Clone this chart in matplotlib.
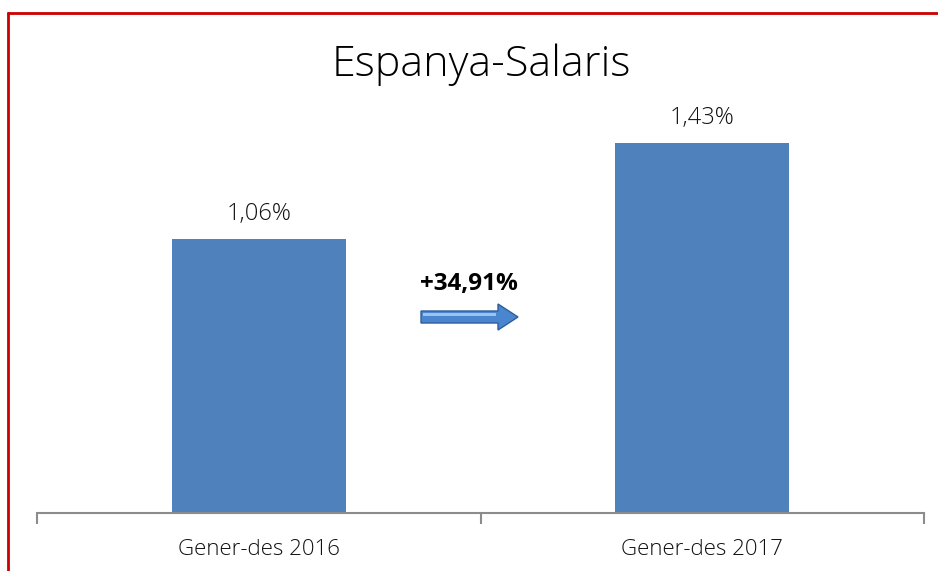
import matplotlib
matplotlib.use("Agg")
import matplotlib.pyplot as plt
from matplotlib.lines import Line2D
from matplotlib.patches import FancyArrow
from matplotlib import font_manager as fm

categories = ["Gener-des 2016", "Gener-des 2017"]
values = [1.06, 1.43]
value_labels = ["1,06%", "1,43%"]
change_label = "+34,91%"
title = "Espanya-Salaris"

W, H = 938, 571
fig = plt.figure(figsize=(W / 100, H / 100), dpi=100)
fig.patch.set_facecolor("white")

# pick a light font if available
light_family, light_weight = "Open Sans", "normal"
names = {(f.name, f.weight) for f in fm.fontManager.ttflist}
for fam in ["Open Sans", "Lato", "Roboto", "Inter", "Noto Sans"]:
    if any(n == fam and (w in (300, "light") or w == 300) for n, w in names):
        light_family, light_weight = fam, "light"
        break

def fx(px):
    return px / W

def fy(py):
    return 1 - py / H

ax = fig.add_axes([fx(37), fy(513), fx(924) - fx(37), fy(99) - fy(513)])
x = list(range(len(categories)))
ax.bar(x, values, width=0.392, color="#4F81BD", zorder=2)
ax.set_xlim(-0.5, len(categories) - 0.5)
ax.set_ylim(0, 1.6)

for s in ["top", "right", "left"]:
    ax.spines[s].set_visible(False)
ax.spines["bottom"].set_color("#8c8c8c")
ax.spines["bottom"].set_linewidth(1.5)
ax.set_yticks([])
ax.set_xticks([i - 0.5 for i in range(len(categories) + 1)])
ax.set_xticklabels([])
ax.tick_params(axis="x", which="major", length=8, width=1.5, color="#8c8c8c", direction="out")
ax.set_xticks(x, minor=True)
ax.set_xticklabels(categories, minor=True, fontsize=16, family=light_family,
                   fontweight=light_weight, color="#111111")
ax.tick_params(axis="x", which="minor", length=0, pad=19)

for xi, v, lab in zip(x, values, value_labels):
    ax.annotate(lab, (xi, v), xytext=(0, 9), textcoords="offset points",
                ha="center", va="bottom", fontsize=17, family=light_family,
                fontweight=light_weight, color="#111111")

fig.text(fx(481), fy(65), title, ha="center", va="center", fontsize=31,
         family=light_family, fontweight=light_weight, color="#000000")

fig.text(fx(469), fy(284), change_label, ha="center", va="center", fontsize=17.5,
         family="Open Sans", fontweight="bold", color="#000000")

arrow = FancyArrow(fx(421), fy(317), fx(518) - fx(421), 0, width=12 / H,
                   head_width=26 / H, head_length=fx(20), length_includes_head=True,
                   transform=fig.transFigure, facecolor="#4A86D0", edgecolor="#2E5E9A",
                   linewidth=1)
fig.patches.append(arrow)
arrow2 = FancyArrow(fx(423), fy(314), fx(496) - fx(423), 0, width=3 / H,
                    head_width=0, head_length=0, length_includes_head=True,
                    transform=fig.transFigure, facecolor="#9CC3F0", edgecolor="none")
fig.patches.append(arrow2)

fig.add_artist(Line2D([fx(7.5), fx(7.5)], [fy(12), 0], color="#CC0000", linewidth=2,
                      transform=fig.transFigure, solid_capstyle="butt"))
fig.add_artist(Line2D([fx(7), 1], [fy(12.5), fy(12.5)], color="#CC0000", linewidth=2,
                      transform=fig.transFigure, solid_capstyle="butt"))

fig.savefig("out.png", dpi=100)
